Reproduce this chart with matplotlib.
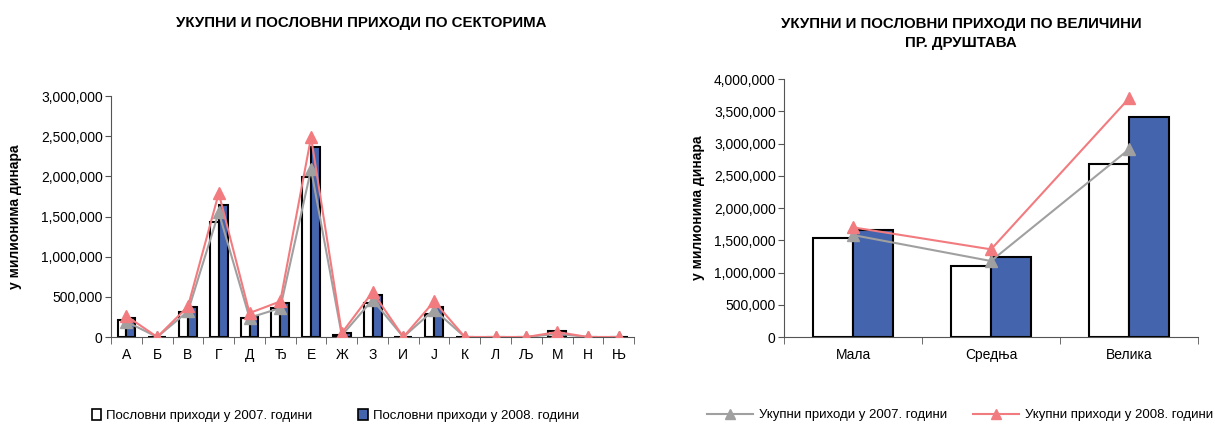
import numpy as np
import matplotlib.pyplot as plt
from matplotlib.ticker import FuncFormatter, FixedLocator
from matplotlib.patches import Patch
from matplotlib.lines import Line2D

plt.rcParams['font.family'] = ['Liberation Sans', 'DejaVu Sans']

# Data: by sector
sectors = ['А', 'Б', 'В', 'Г', 'Д', 'Ђ', 'Е', 'Ж', 'З', 'И', 'Ј', 'К', 'Л', 'Љ', 'М', 'Н', 'Њ']
bus_2007 = [215000, 0, 307000, 1430000, 236000, 356000, 1993000, 25000, 423000, 0, 286000, 0, 0, 0, 70000, 0, 0]
bus_2008 = [236000, 0, 377000, 1641000, 265000, 423000, 2370000, 45000, 518000, 0, 373000, 0, 0, 0, 72000, 0, 0]
tot_2007 = [190000, 0, 320000, 1550000, 240000, 360000, 2088000, 20000, 464000, 0, 340000, 0, 0, 0, 40000, 0, 0]
tot_2008 = [262000, 0, 380000, 1790000, 298000, 443000, 2486000, 50000, 560000, 0, 443000, 0, 0, 0, 62000, 0, 0]

# Data: by company size
sizes = ['Мала', 'Средња', 'Велика']
size_bus_2007 = [1540000, 1101000, 2682000]
size_bus_2008 = [1659000, 1245000, 3411000]
size_tot_2007 = [1581000, 1178000, 2910000]
size_tot_2008 = [1700000, 1359000, 3700000]

blue = '#4464ad'
gray = '#a0a0a0'
red = '#f27b7f'
fmt = FuncFormatter(lambda v, p: f'{int(v):,}')


def draw(ax, cats, b7, b8, t7, t8, ymax, ystep, bar_lw, ms):
    x = np.arange(len(cats))
    w = 0.29
    ax.bar(x - w / 2, b7, w, color='white', edgecolor='black', linewidth=bar_lw, zorder=2)
    ax.bar(x + w / 2, b8, w, color=blue, edgecolor='black', linewidth=bar_lw, zorder=2)
    ax.plot(x, t7, color=gray, marker='^', markersize=ms, linewidth=1.5, zorder=3)
    ax.plot(x, t8, color=red, marker='^', markersize=ms, linewidth=1.5, zorder=4)
    ax.set_xlim(-0.5, len(cats) - 0.5)
    ax.set_ylim(0, ymax)
    ax.set_yticks(np.arange(0, ymax + 1, ystep))
    ax.yaxis.set_major_formatter(fmt)
    ax.set_xticks(x)
    ax.set_xticklabels(cats)
    ax.xaxis.set_minor_locator(FixedLocator(np.arange(-0.5, len(cats), 1)))
    ax.tick_params(axis='x', which='major', length=0, labelsize=10, pad=8)
    ax.tick_params(axis='x', which='minor', length=5, direction='out', color='#555555')
    ax.tick_params(axis='y', length=4, direction='out', color='#555555', labelsize=10, pad=2)
    for s in ['top', 'right']:
        ax.spines[s].set_visible(False)
    for s in ['left', 'bottom']:
        ax.spines[s].set_color('#555555')
    ax.set_ylabel('у милионима динара', fontsize=10, fontweight='bold')


fig = plt.figure(figsize=(12.15, 4.26), dpi=100)
ax1 = fig.add_axes([0.0914, 0.2089, 0.4305, 0.5657])
ax2 = fig.add_axes([0.6453, 0.2089, 0.3407, 0.6056])

draw(ax1, sectors, bus_2007, bus_2008, tot_2007, tot_2008, 3000000, 500000, 1.5, 9)
draw(ax2, sizes, size_bus_2007, size_bus_2008, size_tot_2007, size_tot_2008, 4000000, 500000, 1.5, 9)
ax1.yaxis.set_label_coords(-0.17, 0.5)
ax2.yaxis.set_label_coords(-0.19, 0.5)

fig.text(0.297, 0.947, 'УКУПНИ И ПОСЛОВНИ ПРИХОДИ ПО СЕКТОРИМА', ha='center', va='center',
         fontsize=10.8, fontweight='bold')
fig.text(0.791, 0.922, 'УКУПНИ И ПОСЛОВНИ ПРИХОДИ ПО ВЕЛИЧИНИ\nПР. ДРУШТАВА', ha='center', va='center',
         fontsize=10.8, fontweight='bold', linespacing=1.45)

h1 = [Patch(facecolor='white', edgecolor='black', linewidth=1.2),
      Patch(facecolor=blue, edgecolor='black', linewidth=1.2)]
fig.legend(h1, ['Пословни приходи у 2007. години', 'Пословни приходи у 2008. години'],
           loc='center', bbox_to_anchor=(0.276, 0.025), ncol=2, frameon=False, fontsize=9.5,
           handlelength=0.7, handleheight=0.9, columnspacing=3.5, handletextpad=0.4)

h2 = [Line2D([], [], color=gray, marker='^', markersize=7, linewidth=1.5),
      Line2D([], [], color=red, marker='^', markersize=7, linewidth=1.5)]
fig.legend(h2, ['Укупни приходи у 2007. години', 'Укупни приходи у 2008. години'],
           loc='center', bbox_to_anchor=(0.79, 0.025), ncol=2, frameon=False, fontsize=9.5,
           handlelength=3.5, columnspacing=2.0, handletextpad=0.4)

fig.savefig('out.png', dpi=100)
